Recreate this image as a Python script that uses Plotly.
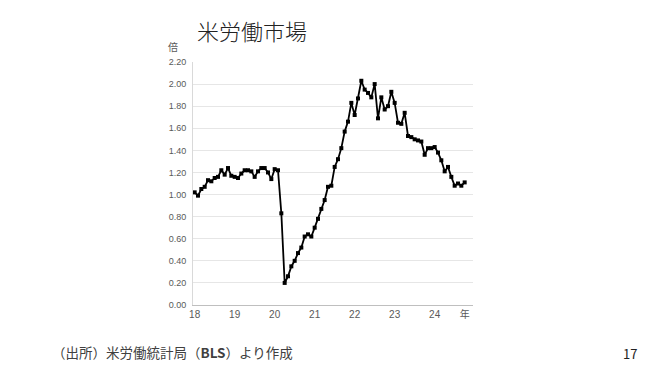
import plotly.graph_objects as go

# Monthly ratio of job openings to unemployed persons, Jan 2018 - Oct 2024
ratio_2018 = [1.02, 0.99, 1.05, 1.07, 1.13, 1.12, 1.15, 1.16, 1.22, 1.18, 1.24, 1.17]
ratio_2019 = [1.16, 1.15, 1.19, 1.22, 1.22, 1.21, 1.16, 1.21, 1.24, 1.24, 1.20, 1.14]
ratio_2020 = [1.23, 1.22, 0.83, 0.20, 0.26, 0.35, 0.40, 0.47, 0.52, 0.62, 0.64, 0.62]
ratio_2021 = [0.70, 0.78, 0.87, 0.95, 1.07, 1.08, 1.25, 1.32, 1.42, 1.57, 1.66, 1.83]
ratio_2022 = [1.72, 1.87, 2.03, 1.95, 1.92, 1.88, 2.00, 1.69, 1.88, 1.77, 1.80, 1.93]
ratio_2023 = [1.83, 1.65, 1.64, 1.74, 1.53, 1.52, 1.50, 1.49, 1.48, 1.36, 1.42, 1.42]
ratio_2024 = [1.43, 1.38, 1.31, 1.21, 1.25, 1.16, 1.08, 1.10, 1.08, 1.11]

values = ratio_2018 + ratio_2019 + ratio_2020 + ratio_2021 + ratio_2022 + ratio_2023 + ratio_2024
months = list(range(len(values)))

tick_positions = [0, 12, 24, 36, 48, 60, 72, 81]
tick_labels = ["18", "19", "20", "21", "22", "23", "24", "年"]
y_ticks = [0.0, 0.2, 0.4, 0.6, 0.8, 1.0, 1.2, 1.4, 1.6, 1.8, 2.0, 2.2]

title_text = "米労働市場"
unit_text = "倍"
source_text = "（出所）米労働統計局（<b>BLS</b>）より作成"
page_text = "17"

font_main = "Noto Sans CJK JP, Liberation Sans, sans-serif"

fig = go.Figure()
fig.add_trace(go.Scatter(
    x=months, y=values, mode="lines+markers",
    line=dict(color="#000000", width=1.8),
    marker=dict(symbol="square", size=4, color="#000000"),
    hoverinfo="skip", showlegend=False,
))

fig.update_layout(
    width=660, height=371,
    margin=dict(l=193, r=187, t=62, b=66),
    paper_bgcolor="white", plot_bgcolor="white",
    font=dict(family=font_main, color="#595959"),
    xaxis=dict(
        range=[-0.5, 83.5], tickmode="array",
        tickvals=tick_positions, ticktext=tick_labels,
        showgrid=False, zeroline=False,
        showline=True, linecolor="#bfbfbf", linewidth=1,
        ticks="", tickfont=dict(size=10, color="#595959", family="Liberation Sans, Noto Sans CJK JP"),
        fixedrange=True,
    ),
    yaxis=dict(
        range=[0, 2.2], tickmode="array", tickvals=y_ticks,
        ticktext=[f"{v:.2f}" for v in y_ticks],
        showgrid=True, gridcolor="#e6e6e6", gridwidth=1,
        zeroline=False, showline=True, linecolor="#d9d9d9", linewidth=1,
        ticks="", ticklabelstandoff=4,
        tickfont=dict(size=9, color="#595959", family="Liberation Sans, sans-serif"),
        fixedrange=True,
    ),
    annotations=[
        dict(text=title_text, x=252, y=30,
             showarrow=False, font=dict(size=22, color="#222222", family=font_main, weight=300),
             xanchor="center", yanchor="middle"),
        dict(text=unit_text, x=173, y=47, showarrow=False,
             font=dict(size=10, color="#595959", family=font_main),
             xanchor="center", yanchor="middle"),
        dict(text=source_text, x=50, y=352, showarrow=False,
             font=dict(size=13.5, color="#404040", family=font_main),
             xanchor="left", yanchor="middle"),
        dict(text=page_text, x=630, y=353, showarrow=False,
             font=dict(size=13, color="#222222", family=font_main),
             xanchor="center", yanchor="middle"),
    ],
)

# convert pixel annotation positions to paper coordinates
W, H = 660, 371
l, r, t, b = 193, 187, 62, 66
pw, ph = W - l - r, H - t - b
new_ann = []
for a in fig.layout.annotations:
    px, py = a.x, a.y
    a.update(xref="paper", yref="paper", x=(px - l) / pw, y=(H - b - py) / ph)
    new_ann.append(a)
fig.layout.annotations = new_ann

fig.write_html("out.html")
